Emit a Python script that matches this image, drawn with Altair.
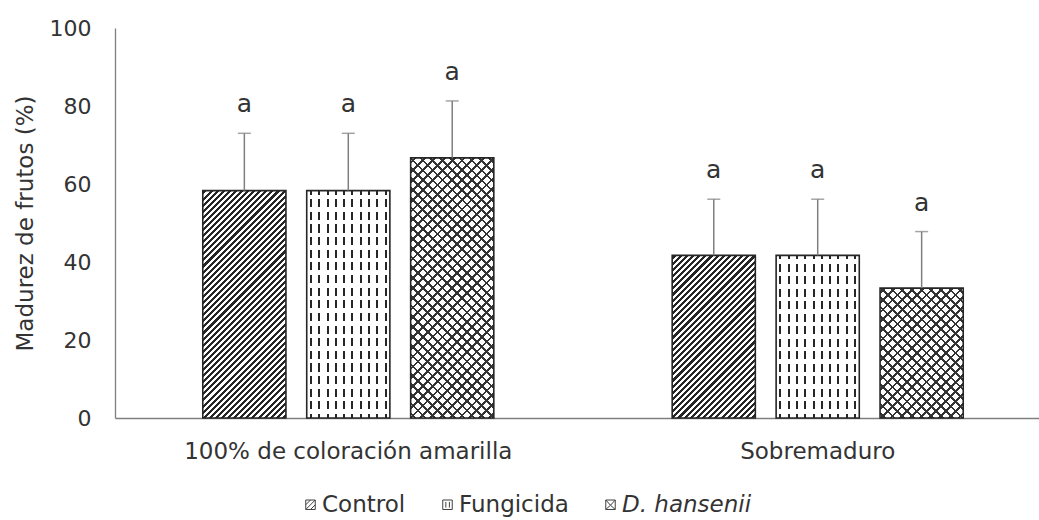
import math
import altair as alt
import pandas as pd

# ---------------- data ----------------
groups = ["100% de coloración amarilla", "Sobremaduro"]
series = ["Control", "Fungicida", "D. hansenii"]
control_vals = [58.3, 41.7]
fungicida_vals = [58.3, 41.7]
hansenii_vals = [66.7, 33.3]
control_err = [14.7, 14.4]
fungicida_err = [14.7, 14.4]
hansenii_err = [14.6, 14.5]
control_letters = ["a", "a"]
fungicida_letters = ["a", "a"]
hansenii_letters = ["a", "a"]

rows = []
for s, vals, errs, lets in [
    ("Control", control_vals, control_err, control_letters),
    ("Fungicida", fungicida_vals, fungicida_err, fungicida_letters),
    ("D. hansenii", hansenii_vals, hansenii_err, hansenii_letters),
]:
    for g, v, e, l in zip(groups, vals, errs, lets):
        rows.append({"group": g, "series": s, "value": v, "err": e, "letter": l})
df = pd.DataFrame(rows)
df["top"] = df["value"] + df["err"]
df["bid"] = range(len(df))

# ---------------- layout / style ----------------
FONT = "DejaVu Sans"
TXT = "#333333"
INK = "#262626"
PLOT_W, PLOT_H = 924, 390
RANGE_W = 936
PI_X, PO_X, PI_O = 0.38, 0.187, 0.2

step = RANGE_W / (2 - PI_X + 2 * PO_X)
band = step * (1 - PI_X)
bar_w = band / (3 - PI_O) * (1 - PI_O)

xs = alt.X("group:N", scale=alt.Scale(domain=groups, range=[0, RANGE_W],
                                      paddingInner=PI_X, paddingOuter=PO_X),
           axis=alt.Axis(title=None, ticks=False, labelAngle=0, labelFont=FONT,
                         labelFontSize=23, labelColor=TXT, labelPadding=22, labelLimit=0,
                         domainColor="#7f7f7f", domainWidth=1.3, grid=False))
xo = alt.XOffset("series:N", scale=alt.Scale(domain=series, paddingInner=PI_O, paddingOuter=0))
yscale = alt.Scale(domain=[0, 100], nice=False)
ys = alt.Y("value:Q", scale=yscale,
           axis=alt.Axis(values=[0, 20, 40, 60, 80, 100], ticks=False, grid=False,
                         domainColor="#7f7f7f", domainWidth=1.3, labelFont=FONT,
                         labelFontSize=22, labelColor=TXT, labelPadding=24,
                         title="Madurez de frutos (%)", titleFont=FONT, titleFontSize=23,
                         titleFontWeight="normal", titleColor=TXT, titlePadding=12))


def stripes(n, duty, ink, paper):
    stops = []
    for k in range(n):
        s0 = round(k / n, 5)
        a = round((k + 0.5 - duty / 2) / n, 5)
        b = round((k + 0.5 + duty / 2) / n, 5)
        s1 = round((k + 1) / n, 5)
        stops += [alt.GradientStop(offset=s0, color=paper), alt.GradientStop(offset=a, color=paper),
                  alt.GradientStop(offset=a, color=ink), alt.GradientStop(offset=b, color=ink),
                  alt.GradientStop(offset=b, color=paper), alt.GradientStop(offset=s1, color=paper)]
    return stops


def diag(w, h, period, duty, ink, paper, up=True):
    r = w / h
    s = (r + 1) / (r * r + 1)
    n = max(4, round((w + h) / math.sqrt(2) / period))
    if up:
        return alt.LinearGradient(gradient="linear", stops=stripes(n, duty, ink, paper),
                                  x1=0, y1=0, x2=s * r, y2=s)
    return alt.LinearGradient(gradient="linear", stops=stripes(n, duty, ink, paper),
                              x1=0, y1=1, x2=s * r, y2=1 - s)


base = alt.Chart(df)
layers = []
for _, row in df.iterrows():
    h = row["value"] / 100 * PLOT_H
    sel = base.transform_filter(alt.datum.bid == int(row["bid"]))
    fills = []
    if row["series"] == "Control":
        fills.append(diag(bar_w, h, 4.3, 0.5, "#262626", "white", up=True))
    elif row["series"] == "Fungicida":
        nv = max(4, round(bar_w / 8))
        fills.append(alt.LinearGradient(gradient="linear", stops=stripes(nv, 0.24, "#262626", "white"),
                                        x1=0, y1=0, x2=1, y2=0))
        nh = max(4, round(h / 12.5))
        fills.append(alt.LinearGradient(gradient="linear",
                                        stops=stripes(nh, 0.36, "white", "rgba(255,255,255,0)"),
                                        x1=0, y1=0, x2=0, y2=1))
    else:
        fills.append(diag(bar_w, h, 7.0, 0.28, "#333333", "white", up=True))
        fills.append(diag(bar_w, h, 7.0, 0.28, "#333333", "rgba(255,255,255,0)", up=False))
    for f in fills:
        layers.append(sel.mark_bar(fill=f, strokeWidth=0).encode(x=xs, xOffset=xo, y=ys))

outline = base.mark_bar(fillOpacity=0, stroke=INK, strokeWidth=1.6).encode(x=xs, xOffset=xo, y=ys)
err_rule = base.mark_rule(color="#7f7f7f", strokeWidth=1.5).encode(
    x=xs, xOffset=xo, y=ys, y2="top:Q")
err_cap = base.mark_tick(color="#7f7f7f", thickness=1.5, size=13).encode(
    x=xs, xOffset=xo, y=alt.Y("top:Q", scale=yscale))
letters = base.mark_text(font=FONT, fontSize=25, color=TXT, baseline="alphabetic", dy=-21).encode(
    x=xs, xOffset=xo, y=alt.Y("top:Q", scale=yscale), text="letter:N")

paths = [
    "M-1,-1H1V1H-1Z M-1,1L1,-1 M-1,0L0,-1 M0,1L1,0",
    "M-1,-1H1V1H-1Z M-0.35,-0.6V0.6 M0.4,-0.6V0.6",
    "M-1,-1H1V1H-1Z M-1,-1L0,0.1L1,-1 M-1,1L0,0.1L1,1",
]
legend_layer = base.mark_point(opacity=0).encode(
    x=xs, xOffset=xo, y=ys,
    shape=alt.Shape("series:N", scale=alt.Scale(domain=series, range=paths),
                    legend=alt.Legend(title=None, orient="none", legendX=184, legendY=465,
                                      direction="horizontal", symbolSize=90,
                                      symbolFillColor="white", symbolStrokeColor="#404040",
                                      symbolStrokeWidth=1, symbolOpacity=1,
                                      labelFont=FONT, labelFontSize=23, labelColor=TXT,
                                      labelOffset=0, columnPadding=30, padding=0, labelLimit=0,
                                      labelFontStyle=alt.ExprRef(
                                          expr="datum.label == 'D. hansenii' ? 'italic' : 'normal'"))))

chart = alt.layer(*layers, outline, err_rule, err_cap, letters, legend_layer).properties(
    width=PLOT_W, height=PLOT_H,
    autosize=alt.AutoSizeParams(type="none"),
    padding={"left": 115, "top": 28, "right": 0, "bottom": 102},
    background="white",
).configure_view(stroke=None)

chart.save("out.html", embed_options={"renderer": "svg", "actions": False})
